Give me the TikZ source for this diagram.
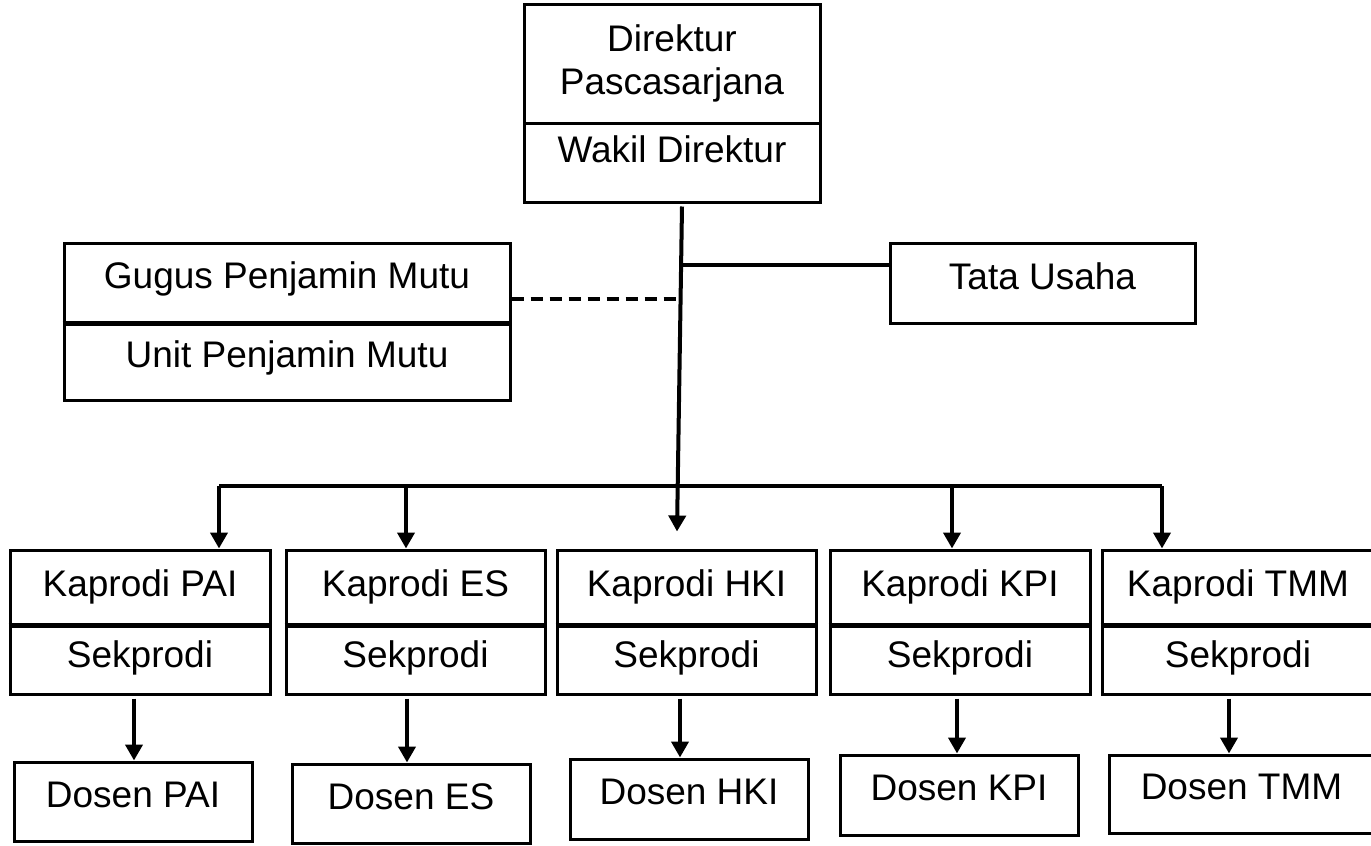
\documentclass[tikz,border=0pt]{standalone}
\usepackage{fontspec}
\setmainfont{Liberation Sans}
\usetikzlibrary{arrows.meta,calc}
\newcommand\orgfont{\fontsize{37}{43}\selectfont}
\begin{document}
\begin{tikzpicture}[x=1pt,y=-1pt,
  box/.style={draw, line width=3pt, inner sep=0pt, font=\orgfont, align=center, text height=26pt},
  kapbox/.style={box, minimum height=74pt, text depth=8pt},
  sekbox/.style={box, minimum height=70pt, text depth=10pt},
  dosbox/.style={box, minimum width=238pt, text depth=15pt},
  divider/.style={line width=5pt},
  conn/.style={line width=4pt},
  arr/.style={conn, -{Triangle[length=16pt,width=17pt]}},
  dashline/.style={line width=4.5pt, dash pattern=on 12pt off 7pt}]
\useasboundingbox (0,0) rectangle (1371,846);
\fill[white] (0,0) rectangle (1371,846);

% Director
\node[box, minimum width=296pt, minimum height=119pt, text height=, text depth=] (dirA) at (672,63.5) {Direktur\\Pascasarjana};
\node[box, minimum width=296pt, minimum height=79pt, text depth=27pt] (dirB) at (672,162.5) {Wakil Direktur};

% Tata Usaha
\node[box, minimum width=305pt, minimum height=80pt, text depth=14pt] (tata) at (1042.5,283) {Tata Usaha};

% Gugus / Unit
\node[box, minimum width=446pt, minimum height=79pt, text depth=15pt] (gugA) at (287,282.5) {Gugus Penjamin Mutu};
\node[box, minimum width=446pt, minimum height=78pt, text depth=14pt] (gugB) at (287,361) {Unit Penjamin Mutu};
\draw[divider] (gugA.south west) -- (gugA.south east);

% Kaprodi / Sekprodi
\node[kapbox, minimum width=260pt] (paiA) at (140,587) {Kaprodi PAI};
\node[sekbox, minimum width=260pt] (paiB) at (140,659) {Sekprodi};
\node[kapbox, minimum width=259pt] (esA) at (415.5,587) {Kaprodi ES};
\node[sekbox, minimum width=259pt] (esB) at (415.5,659) {Sekprodi};
\node[kapbox, minimum width=259pt] (hkiA) at (686.5,587) {Kaprodi HKI};
\node[sekbox, minimum width=259pt] (hkiB) at (686.5,659) {Sekprodi};
\node[kapbox, minimum width=260pt] (kpiA) at (960,587) {Kaprodi KPI};
\node[sekbox, minimum width=260pt] (kpiB) at (960,659) {Sekprodi};
\node[kapbox, minimum width=272pt] (tmmA) at (1238,587) {Kaprodi TMM};
\node[sekbox, minimum width=272pt] (tmmB) at (1238,659) {Sekprodi};
\foreach \n in {pai,es,hki,kpi,tmm}
  \draw[divider] (\n A.south west) -- (\n A.south east);

% Dosen
\node[dosbox, minimum height=79pt] (dpai) at (133,801.5) {Dosen PAI};
\node[dosbox, minimum height=79pt] (des) at (411,803.5) {Dosen ES};
\node[dosbox, minimum height=80pt] (dhki) at (689,799) {Dosen HKI};
\node[dosbox, minimum height=80pt] (dkpi) at (959,795) {Dosen KPI};
\node[dosbox, minimum width=265pt, minimum height=78pt] (dtmm) at (1241.5,794) {Dosen TMM};

% Main trunk
\coordinate (mtop) at ($(dirB.south)+(10,3)$);
\coordinate (mend) at ($(hkiA.north)+(-9.5,-17)$);
\coordinate (tj) at ($(mtop)!0.18!(mend)$);
\coordinate (dj) at ($(mtop)!0.284!(mend)$);
\draw[arr] (mtop) -- (mend);
\draw[line width=3.5pt] (tj) -- (tj -| tata.west);
\draw[dashline] (gugA.east |- dj) -- (dj);

% Bus
\coordinate (bpai) at (219,486);
\coordinate (bes) at (406,486);
\coordinate (bkpi) at (952,486);
\coordinate (btmm) at (1162,486);
\draw[conn] (bpai) -- (btmm);
\draw[arr] (bpai) -- (bpai |- paiA.north);
\draw[arr] (bes) -- (bes |- esA.north);
\draw[arr] (bkpi) -- (bkpi |- kpiA.north);
\draw[arr] (btmm) -- (btmm |- tmmA.north);

% Sekprodi -> Dosen
\draw[arr] ([xshift=-6pt,yshift=-3pt]paiB.south) -- ([xshift=1pt]dpai.north);
\draw[arr] ([xshift=-8.5pt,yshift=-3pt]esB.south) -- ([xshift=-4pt]des.north);
\draw[arr] ([xshift=-6.5pt,yshift=-3pt]hkiB.south) -- ([xshift=-9pt]dhki.north);
\draw[arr] ([xshift=-3pt,yshift=-3pt]kpiB.south) -- ([xshift=-2pt]dkpi.north);
\draw[arr] ([xshift=-9pt,yshift=-3pt]tmmB.south) -- ([xshift=-12.5pt]dtmm.north);
\end{tikzpicture}
\end{document}
